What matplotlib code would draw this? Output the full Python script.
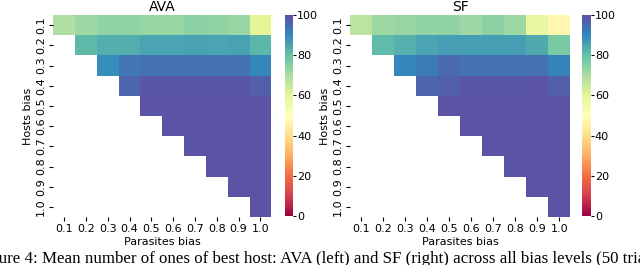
import numpy as np
import matplotlib
matplotlib.use("Agg")
import matplotlib.pyplot as plt
import seaborn as sns

# bias levels used on both axes
bias = [0.1, 0.2, 0.3, 0.4, 0.5, 0.6, 0.7, 0.8, 0.9, 1.0]

# mean number of ones of best host, upper triangle only (row = host bias,
# values start at column == row)
ava_rows = [
    [69, 72, 73.5, 74, 73, 73, 74.5, 74, 72.5, 60],
    [81.5, 83.5, 83.5, 85, 85, 85.5, 85, 85.5, 82],
    [89, 93, 94, 94, 94, 94, 94, 90],
    [96, 98.5, 98.5, 98.5, 98.5, 98.5, 96.5],
    [99, 99, 99, 99, 99, 99],
    [99, 99, 99, 99, 99],
    [99, 99, 99, 99],
    [99, 99, 99],
    [99, 99],
    [99],
]
sf_rows = [
    [67, 72, 73, 73.5, 73.5, 71.5, 74.5, 72, 58, 47],
    [81, 83, 85, 86, 86, 86, 86, 84, 77],
    [90, 92, 95, 94, 94, 94, 94, 91],
    [96, 97, 98.5, 98.5, 98.5, 99, 97],
    [99, 99, 99, 99, 99, 99],
    [99, 99, 99, 99, 99],
    [99, 99, 99, 99],
    [99, 99, 99],
    [99, 99],
    [99],
]
titles = ["AVA", "SF"]
caption = ("Figure 4: Mean number of ones of best host: AVA (left) and SF (right) "
           "across all bias levels (50 trials)")


def to_matrix(rows):
    n = len(bias)
    m = np.full((n, n), np.nan)
    for i, r in enumerate(rows):
        m[i, i:] = r
    return m


fig = plt.figure(figsize=(6.4, 2.65), dpi=100)
ax_pos = [[0.083, 0.181, 0.341, 0.762], [0.547, 0.181, 0.344, 0.762]]
cb_pos = [[0.445, 0.185, 0.0125, 0.758], [0.909, 0.185, 0.014, 0.758]]

for k, rows in enumerate([ava_rows, sf_rows]):
    ax = fig.add_axes(ax_pos[k])
    cax = fig.add_axes(cb_pos[k])
    data = to_matrix(rows)
    sns.heatmap(data, ax=ax, cbar_ax=cax, cmap="Spectral", vmin=0, vmax=100,
                xticklabels=bias, yticklabels=bias)
    ax.set_title(titles[k], fontsize=10, pad=3)
    ax.set_xlabel("Parasites bias", fontsize=8, labelpad=2)
    ax.set_ylabel("Hosts bias", fontsize=8, labelpad=2)
    ax.tick_params(axis="both", labelsize=8, length=3, pad=2)
    ax.set_xticklabels([str(b) for b in bias], rotation=0)
    ax.set_yticklabels([str(b) for b in bias], rotation=90, va="center")
    cax.tick_params(labelsize=8, length=2, pad=1)
    cax.set_yticks([0, 20, 40, 60, 80, 100])

# caption is cropped at both sides in the source image
fig.text(-0.037, 0.024, caption, ha="left", va="center",
         fontsize=12.2, family="Liberation Serif")

fig.savefig("out.png", dpi=100)
